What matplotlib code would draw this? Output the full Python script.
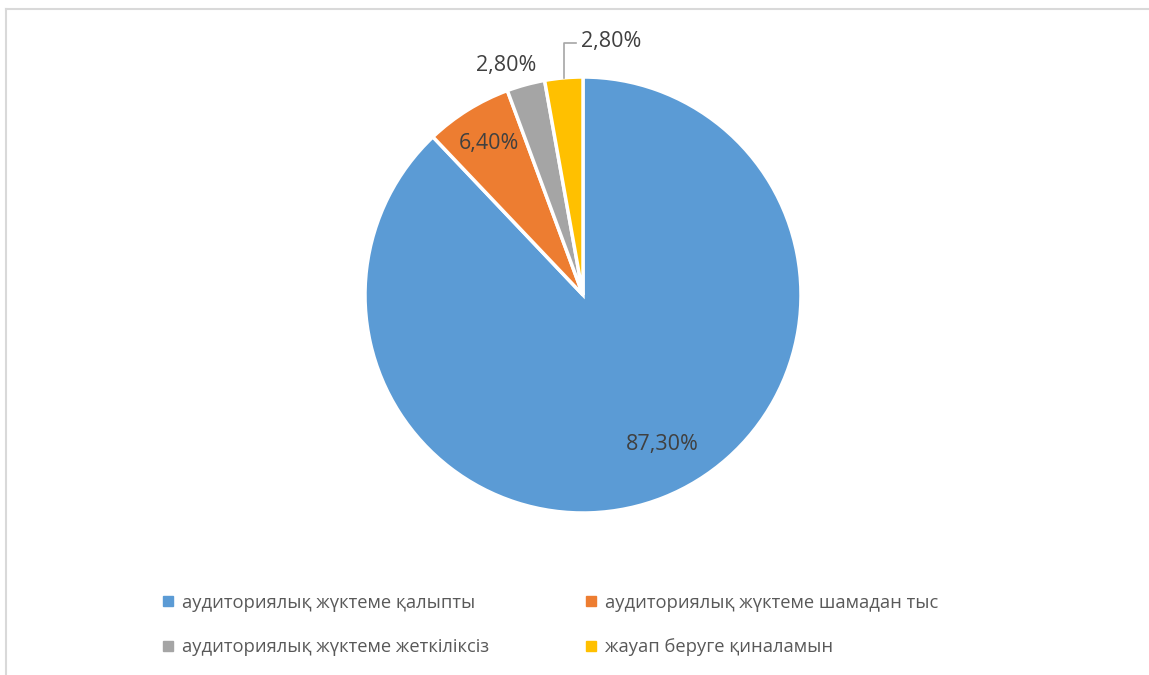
import numpy as np
import matplotlib.pyplot as plt
from matplotlib.lines import Line2D

plt.rcParams['font.family'] = ['Open Sans', 'DejaVu Sans']

categories = ['аудиториялық жүктеме қалыпты', 'аудиториялық жүктеме шамадан тыс',
              'аудиториялық жүктеме жеткіліксіз', 'жауап беруге қиналамын']
values = [87.3, 6.4, 2.8, 2.8]
labels = ['87,30%', '6,40%', '2,80%', '2,80%']
colors = ['#5B9BD5', '#ED7D31', '#A5A5A5', '#FFC000']

W, H = 1149, 675
fig = plt.figure(figsize=(W / 100, H / 100), dpi=100)

# light frame like the office chart border (top and left edges only visible)
fig.add_artist(Line2D([6 / W, 1], [1 - 9 / H, 1 - 9 / H], color='#D9D9D9', lw=1.5))
fig.add_artist(Line2D([6 / W, 6 / W], [0, 1 - 9 / H], color='#D9D9D9', lw=1.5))

cx, cy, r = 583, 295, 218
ax = fig.add_axes([(cx - r) / W, (H - cy - r) / H, 2 * r / W, 2 * r / H])
wedges, _ = ax.pie(values, colors=colors, startangle=90, counterclock=False,
                   wedgeprops=dict(edgecolor='white', linewidth=2.5))
ax.set_xlim(-1, 1)
ax.set_ylim(-1, 1)
ax.set_aspect('equal')
ax.axis('off')

txt_col = '#404040'
fs = 15.5
for i, w in enumerate(wedges):
    ang = np.deg2rad((w.theta1 + w.theta2) / 2)
    ca, sa = np.cos(ang), np.sin(ang)
    if i == 0:
        ax.text(0.74 * ca + 0.09, 0.74 * sa, labels[i], ha='center', va='center',
                fontsize=fs, color=txt_col)
    elif i == 1:
        ax.text(0.82 * ca, 0.82 * sa, labels[i], ha='center', va='center',
                fontsize=fs, color=txt_col)
    elif i == 2:
        ax.text(1.10 * ca - 0.065, 1.09 * sa, labels[i], ha='center', va='center',
                fontsize=fs, color=txt_col, clip_on=False)
    else:
        # leader line for the last slice
        ax.plot([ca, ca, ca + 0.055], [sa, 1.155, 1.155], color='#A6A6A6', lw=1.2,
                clip_on=False)
        ax.text(ca + 0.08, 1.165, labels[i], ha='left', va='center',
                fontsize=fs, color=txt_col, clip_on=False)

handles = [Line2D([], [], marker='s', ls='', markersize=7, color=c) for c in colors]
order = [0, 2, 1, 3]
fig.legend([handles[k] for k in order], [categories[k] for k in order],
           ncol=2, loc='center', bbox_to_anchor=(550 / W, 1 - 625 / H), frameon=False,
           fontsize=13.2, labelcolor='#595959', handlelength=0.7, handletextpad=0.4,
           columnspacing=5.2, labelspacing=1.45)

fig.savefig('out.png', dpi=100, facecolor='white')
